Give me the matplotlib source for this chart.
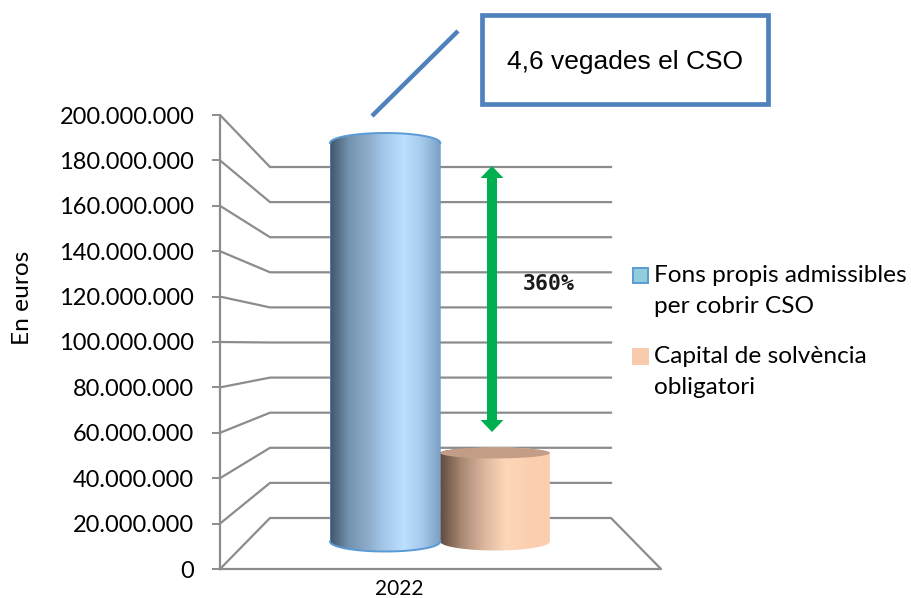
import numpy as np
import matplotlib
matplotlib.use("Agg")
import matplotlib.pyplot as plt
from matplotlib.colors import LinearSegmentedColormap
from matplotlib.legend_handler import HandlerPatch
from matplotlib.patches import Rectangle, Polygon

W, H = 912, 598

# Data
categories = ["2022"]
series_names = ["Fons propis admissibles\nper cobrir CSO", "Capital de solvència\nobligatori"]
fons_propis = [198000000]
capital_solvencia = [44000000]
tick_values = [0, 20000000, 40000000, 60000000, 80000000, 100000000,
               120000000, 140000000, 160000000, 180000000, 200000000]
tick_labels = ["0", "20.000.000", "40.000.000", "60.000.000", "80.000.000", "100.000.000",
               "120.000.000", "140.000.000", "160.000.000", "180.000.000", "200.000.000"]
annotation_text = "4,6 vegades el CSO"
pct_text = "360%"
y_title = "En euros"

GRID = "#8c8c8c"
BLUE_LINE = "#4F81BD"
blue_stops = ["#3f566c", "#7292ae", "#8dabc8", "#a5c9ec", "#bde0ff", "#a4c9ec", "#7c9fc1"]
brown_stops = ["#5f4a3c", "#a98a75", "#dcb69c", "#fdd7b8", "#fbd0b0", "#facdad"]

fig = plt.figure(figsize=(W / 100, H / 100), dpi=100)
fig.patch.set_facecolor("white")
ax = fig.add_axes([220 / W, 1 - 569 / H, 441 / W, 454 / H])
ax.set_xlim(0, 1)
ax.set_ylim(0, 200000000)
ax.patch.set_alpha(0)

for s in ["top", "right", "bottom"]:
    ax.spines[s].set_visible(False)
ax.spines["left"].set_color(GRID)
ax.spines["left"].set_linewidth(1.6)

ax.set_yticks(tick_values)
ax.set_yticklabels(tick_labels, family="Lato", fontsize=17.05, color="black")
ax.tick_params(axis="y", length=6, width=1.4, color=GRID, pad=12.5)
ax.set_xticks([0.407])
ax.set_xticklabels(categories, family="Lato", fontsize=15)
ax.tick_params(axis="x", length=0, pad=7)
fig.text(23 / W, 1 - 298 / H, y_title, rotation=90, family="Lato", fontsize=17.6, ha="center", va="center")

# 3D wall mapping (back wall is compressed and inset compared with the axis)
XB0, XB1 = 50 / 441, 391 / 441
BACK_BASE, BACK_SCALE = 51 / 454 * 2e8, 351 / 454

def back(v):
    return BACK_BASE + BACK_SCALE * v

for v in tick_values[1:]:
    ax.plot([0, XB0, XB1], [v, back(v), back(v)], color=GRID, lw=1.6, solid_joinstyle="miter", zorder=1)
ax.plot([0, XB0, XB1, 1, 0], [0, back(0), back(0), 0, 0], color=GRID, lw=1.6, clip_on=False, zorder=1)

# Cylinders
MID_BASE, MID_SCALE = 27.5 / 454 * 2e8, 0.8866
PX = 2e8 / 454

def cylinder(x0, x1, value, stops, sm_top, sm_bottom, edge=None, cap=None):
    top = MID_BASE + MID_SCALE * value
    xc, rx = (x0 + x1) / 2, (x1 - x0) / 2
    t = np.linspace(0, np.pi, 80)
    tx, ty = xc + rx * np.cos(t), top + sm_top * PX * np.sin(t)
    bx, by = xc - rx * np.cos(t), MID_BASE - sm_bottom * PX * np.sin(t)
    pts = np.column_stack([np.r_[tx, bx], np.r_[ty, by]])
    cmap = LinearSegmentedColormap.from_list("g", stops)
    poly = Polygon(pts, closed=True, transform=ax.transData, fc="none", ec="none")
    ax.add_patch(poly)
    im = ax.imshow(np.linspace(0, 1, 256)[None, :], extent=[x0, x1, 0, 2e8], aspect="auto",
                   cmap=cmap, zorder=3)
    im.set_clip_path(poly)
    if cap is not None:
        tt = np.linspace(0, 2 * np.pi, 160)
        ax.fill(xc + rx * np.cos(tt), top + sm_top * PX * np.sin(tt), color=cap, zorder=4, lw=0)
    if edge is not None:
        ax.plot(tx, ty, color=edge, lw=1.4, zorder=5)
        ax.plot(bx, by, color=edge, lw=1.4, zorder=5)
        ax.plot([x0, x0], [top, MID_BASE], color=edge, lw=0.7, alpha=.6, zorder=5)
        ax.plot([x1, x1], [top, MID_BASE], color=edge, lw=0.7, alpha=.6, zorder=5)

cylinder(0.2494, 0.4995, fons_propis[0], blue_stops, 10, 10, edge="#5B9BD5")
cylinder(0.4995, 0.748, capital_solvencia[0], brown_stops, 5.5, 9, cap="#c49d86")
ax.set_xlim(0, 1)
ax.set_ylim(0, 200000000)

# Overlay annotations, in figure pixel coordinates
def fx(x): return x / W
def fy(y): return 1 - y / H

ARROW_X, ARROW_TOP, ARROW_BOTTOM, SHAFT, HEAD_W, HEAD_L = 492, 166, 432, 5, 11.5, 12
arrow_px = [(ARROW_X, ARROW_TOP), (ARROW_X + HEAD_W, ARROW_TOP + HEAD_L), (ARROW_X + SHAFT, ARROW_TOP + HEAD_L),
            (ARROW_X + SHAFT, ARROW_BOTTOM - HEAD_L), (ARROW_X + HEAD_W, ARROW_BOTTOM - HEAD_L),
            (ARROW_X, ARROW_BOTTOM), (ARROW_X - HEAD_W, ARROW_BOTTOM - HEAD_L), (ARROW_X - SHAFT, ARROW_BOTTOM - HEAD_L),
            (ARROW_X - SHAFT, ARROW_TOP + HEAD_L), (ARROW_X - HEAD_W, ARROW_TOP + HEAD_L)]
fig.add_artist(Polygon([(fx(a), fy(b)) for a, b in arrow_px], closed=True, transform=fig.transFigure,
                       fc="#00B050", ec="none", zorder=6))
fig.text(fx(548.5), fy(284), pct_text, family="DejaVu Sans Mono", fontweight="bold", fontsize=15.5,
         ha="center", va="center", color="#1a1a1a")
fig.add_artist(plt.Line2D([fx(372), fx(458)], [fy(116), fy(31)], color=BLUE_LINE, lw=3.2,
                          solid_capstyle="butt", transform=fig.transFigure))
fig.add_artist(Rectangle((fx(482), fy(103.5)), 286 / W, 89 / H, transform=fig.transFigure,
                         fc="white", ec=BLUE_LINE, lw=3.4))
fig.text(fx(625), fy(62), annotation_text, family="Liberation Sans", fontsize=19, ha="center", va="center")

# Legend (swatch lines up with the first text line)
SWATCH_SHIFT_PT = 11.0

def raised_swatch(legend, orig_handle, xdescent, ydescent, width, height, fontsize):
    return Rectangle((-xdescent, -ydescent + SWATCH_SHIFT_PT), width, height)

handles = [Rectangle((0, 0), 1, 1, fc="#92CDDC", ec="#5B9BD5", lw=1.4),
           Rectangle((0, 0), 1, 1, fc="#F8CBAD", ec="#F8CBAD", lw=1.4)]
leg = fig.legend(handles, series_names, loc="upper left", bbox_to_anchor=(fx(633), fy(265)),
                 frameon=False, prop={"family": "Lato", "size": 17.6},
                 handlelength=0.6, handleheight=0.6, handletextpad=0.26, labelspacing=1.2,
                 borderpad=0, borderaxespad=0, alignment="left",
                 handler_map={Rectangle: HandlerPatch(patch_func=raised_swatch)})
for t in leg.get_texts():
    t.set_linespacing(1.57)

fig.savefig("out.png", dpi=100)
